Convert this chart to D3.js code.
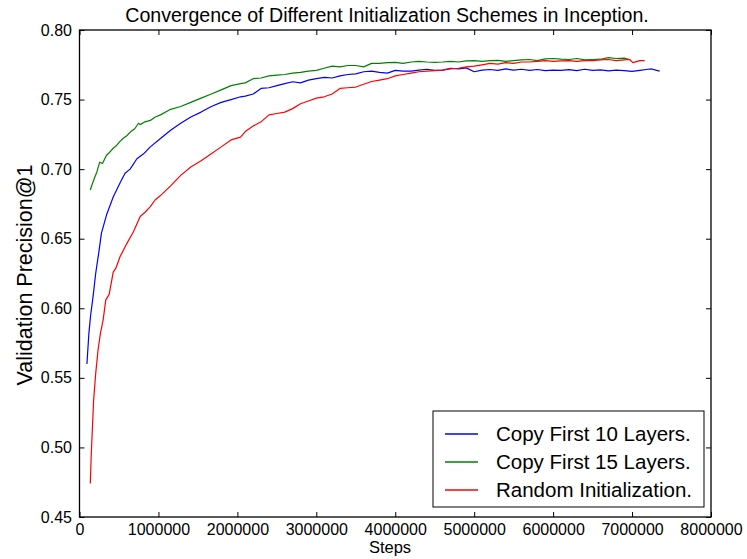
<!DOCTYPE html>
<html>
<head>
<meta charset="utf-8">
<script src="https://cdn.jsdelivr.net/npm/d3@7"></script>
<style>
  body { margin: 0; background: #fff; }
  text { font-family: "Liberation Sans", Arial, sans-serif; fill: #000; }
</style>
</head>
<body>
<svg id="chart" width="747" height="559"></svg>
<script>
// tick labels
var xTicks = [0, 1000000, 2000000, 3000000, 4000000, 5000000, 6000000, 7000000, 8000000];
var yTicks = [0.45, 0.50, 0.55, 0.60, 0.65, 0.70, 0.75, 0.80];
var seriesNames = ["Copy First 10 Layers.", "Copy First 15 Layers.", "Random Initialization."];

// Copy First 10 Layers.
var stepsCopy10 = [94000, 119000, 141000, 171000, 205000, 244000, 278000, 342000, 427000, 513000,
  577000, 641000, 727000, 812000, 897000, 1026000, 1154000, 1282000, 1410000, 1540000,
  1670000, 1795000, 1920000, 2040000, 2100000, 2200000, 2300000, 2400000, 2500000, 2600000,
  2700000, 2800000, 2900000, 3000000, 3100000, 3200000, 3300000, 3400000, 3500000, 3600000,
  3700000, 3800000, 3900000, 4000000, 4100000, 4200000, 4300000, 4400000, 4500000, 4600000,
  4700000, 4800000, 4900000, 5000000, 5100000, 5200000, 5300000, 5400000, 5500000, 5600000,
  5700000, 5800000, 5900000, 6000000, 6100000, 6200000, 6300000, 6400000, 6500000, 6600000,
  6700000, 6800000, 6900000, 7000000, 7100000, 7200000, 7250000, 7300000, 7350000];
var precCopy10 = [0.560, 0.582, 0.595, 0.608, 0.625, 0.640, 0.654, 0.667, 0.680, 0.690,
  0.697, 0.700, 0.7075, 0.711, 0.716, 0.722, 0.728, 0.733, 0.7375, 0.741,
  0.745, 0.748, 0.750, 0.752, 0.7525, 0.754, 0.758, 0.7585, 0.760, 0.7615,
  0.7628, 0.762, 0.764, 0.765, 0.766, 0.7655, 0.767, 0.768, 0.7685, 0.770,
  0.7705, 0.7695, 0.769, 0.771, 0.7705, 0.7705, 0.7712, 0.7718, 0.771, 0.7712,
  0.7725, 0.772, 0.7728, 0.770, 0.7712, 0.7716, 0.771, 0.772, 0.7712, 0.7718,
  0.771, 0.7716, 0.7708, 0.7712, 0.771, 0.7715, 0.7708, 0.7718, 0.771, 0.7714,
  0.7706, 0.7712, 0.7708, 0.7702, 0.771, 0.7718, 0.772, 0.7712, 0.7705];

// Copy First 15 Layers.
var stepsCopy15 = [137000, 160000, 192000, 220000, 256000, 291000, 342000, 380000, 427000, 470000,
  513000, 550000, 599000, 650000, 700000, 747000, 769000, 830000, 897000, 960000,
  1026000, 1154000, 1282000, 1410000, 1540000, 1670000, 1795000, 1920000, 2040000, 2100000,
  2200000, 2300000, 2400000, 2500000, 2600000, 2700000, 2800000, 2900000, 3000000, 3100000,
  3200000, 3300000, 3400000, 3500000, 3600000, 3700000, 3800000, 3900000, 4000000, 4100000,
  4200000, 4300000, 4400000, 4500000, 4600000, 4700000, 4800000, 4900000, 5000000, 5100000,
  5200000, 5300000, 5400000, 5500000, 5600000, 5700000, 5800000, 5900000, 6000000, 6100000,
  6200000, 6300000, 6400000, 6500000, 6600000, 6700000, 6800000, 6900000, 6970000];
var precCopy15 = [0.685, 0.689, 0.694, 0.698, 0.705, 0.704, 0.710, 0.712, 0.715, 0.717,
  0.720, 0.722, 0.724, 0.727, 0.729, 0.733, 0.732, 0.734, 0.735, 0.7375,
  0.739, 0.743, 0.745, 0.748, 0.751, 0.754, 0.757, 0.760, 0.7615, 0.762,
  0.765, 0.7655, 0.767, 0.7675, 0.768, 0.769, 0.7695, 0.7705, 0.771, 0.7725,
  0.774, 0.7735, 0.7745, 0.7745, 0.7735, 0.776, 0.776, 0.7765, 0.7768, 0.776,
  0.777, 0.7775, 0.777, 0.7768, 0.777, 0.7775, 0.777, 0.7778, 0.778, 0.7775,
  0.778, 0.7782, 0.7775, 0.778, 0.7785, 0.7788, 0.778, 0.7792, 0.7795, 0.779,
  0.7788, 0.7795, 0.7785, 0.7788, 0.779, 0.7802, 0.7795, 0.7798, 0.7788];

// Random Initialization.
var stepsRandom = [137000, 147000, 158000, 179000, 205000, 235000, 265000, 299000, 333000, 376000,
  427000, 462000, 513000, 599000, 683000, 769000, 830000, 897000, 960000, 1026000,
  1154000, 1282000, 1410000, 1540000, 1670000, 1795000, 1920000, 2040000, 2100000, 2200000,
  2300000, 2400000, 2500000, 2600000, 2700000, 2800000, 2900000, 3000000, 3100000, 3200000,
  3300000, 3400000, 3500000, 3600000, 3700000, 3800000, 3900000, 4000000, 4100000, 4200000,
  4300000, 4400000, 4500000, 4600000, 4700000, 4800000, 4900000, 5000000, 5100000, 5200000,
  5300000, 5400000, 5500000, 5600000, 5700000, 5800000, 5900000, 6000000, 6100000, 6200000,
  6300000, 6400000, 6500000, 6600000, 6700000, 6800000, 6900000, 6970000, 7010000, 7100000,
  7160000];
var precRandom = [0.474, 0.492, 0.507, 0.534, 0.553, 0.570, 0.582, 0.5915, 0.606, 0.610,
  0.626, 0.629, 0.637, 0.6465, 0.655, 0.666, 0.669, 0.673, 0.678, 0.681,
  0.688, 0.6955, 0.7015, 0.706, 0.711, 0.716, 0.721, 0.723, 0.727, 0.731,
  0.734, 0.739, 0.740, 0.741, 0.7435, 0.747, 0.749, 0.751, 0.752, 0.754,
  0.758, 0.7585, 0.759, 0.761, 0.763, 0.764, 0.765, 0.767, 0.768, 0.769,
  0.770, 0.7705, 0.7708, 0.7712, 0.772, 0.7725, 0.7735, 0.774, 0.775, 0.776,
  0.7755, 0.7765, 0.776, 0.777, 0.777, 0.7775, 0.778, 0.7775, 0.7778, 0.778,
  0.7775, 0.778, 0.778, 0.7785, 0.7788, 0.778, 0.7785, 0.7788, 0.7765, 0.778,
  0.778];

var colors = ["#0000ff", "#008000", "#ff0000"];

var plotLeft = 79.5, plotRight = 711, plotTop = 30, plotBottom = 517;

var svg = d3.select("#chart");

var x = d3.scaleLinear().domain([0, 8000000]).range([plotLeft, plotRight]);
var y = d3.scaleLinear().domain([0.45, 0.80]).range([plotBottom, plotTop]);

var series = [
  {name: seriesNames[0], steps: stepsCopy10, vals: precCopy10, color: colors[0]},
  {name: seriesNames[1], steps: stepsCopy15, vals: precCopy15, color: colors[1]},
  {name: seriesNames[2], steps: stepsRandom, vals: precRandom, color: colors[2]}
];

var line = d3.line()
  .x(function (d) { return x(d[0]); })
  .y(function (d) { return y(d[1]); });

// curves
svg.append("g").selectAll("path")
  .data(series)
  .enter()
  .append("path")
  .attr("fill", "none")
  .attr("stroke", function (d) { return d.color; })
  .attr("stroke-width", 1.2)
  .attr("stroke-linejoin", "round")
  .attr("d", function (d) { return line(d.steps.map(function (s, i) { return [s, d.vals[i]]; })); });

// axes, ticks pointing inward on all four sides
var xAxis = svg.append("g")
  .attr("transform", "translate(0," + plotBottom + ")")
  .call(d3.axisBottom(x).tickValues(xTicks).tickFormat(d3.format("d"))
    .tickSizeInner(-5).tickSizeOuter(0).tickPadding(7));
var xAxisTop = svg.append("g")
  .attr("transform", "translate(0," + plotTop + ")")
  .call(d3.axisTop(x).tickValues(xTicks).tickFormat("").tickSizeInner(-5).tickSizeOuter(0));
var yAxis = svg.append("g")
  .attr("transform", "translate(" + plotLeft + ",0)")
  .call(d3.axisLeft(y).tickValues(yTicks).tickFormat(d3.format(".2f"))
    .tickSizeInner(-5).tickSizeOuter(0).tickPadding(7.5));
var yAxisRight = svg.append("g")
  .attr("transform", "translate(" + plotRight + ",0)")
  .call(d3.axisRight(y).tickValues(yTicks).tickFormat("").tickSizeInner(-5).tickSizeOuter(0));

[xAxis, xAxisTop, yAxis, yAxisRight].forEach(function (g) {
  g.select(".domain").remove();
  g.selectAll(".tick line").attr("stroke", "#000").attr("stroke-width", 1);
  g.selectAll("text")
    .style("font-family", "'Liberation Sans', Arial, sans-serif")
    .style("font-size", "16px")
    .attr("fill", "#000");
});

// frame
svg.append("rect")
  .attr("x", plotLeft).attr("y", plotTop)
  .attr("width", plotRight - plotLeft).attr("height", plotBottom - plotTop)
  .attr("fill", "none").attr("stroke", "#000").attr("stroke-width", 1.3);

// title and axis labels
svg.append("text")
  .attr("x", 387).attr("y", 21.5)
  .attr("text-anchor", "middle")
  .style("font-size", "19.6px")
  .text("Convergence of Different Initialization Schemes in Inception.");

svg.append("text")
  .attr("x", 390).attr("y", 553)
  .attr("text-anchor", "middle")
  .style("font-size", "16.5px")
  .text("Steps");

svg.append("text")
  .attr("transform", "translate(32,275) rotate(-90)")
  .attr("text-anchor", "middle")
  .style("font-size", "21.5px")
  .text("Validation Precision@1");

// legend
var legend = svg.append("g");
legend.append("rect")
  .attr("x", 433).attr("y", 411)
  .attr("width", 271).attr("height", 96)
  .attr("fill", "#fff").attr("stroke", "#000").attr("stroke-width", 1);

var item = legend.selectAll("g.item")
  .data(series)
  .enter()
  .append("g")
  .attr("class", "item")
  .attr("transform", function (d, i) { return "translate(0," + (434 + i * 28) + ")"; });

item.append("line")
  .attr("x1", 445).attr("x2", 478)
  .attr("y1", 0).attr("y2", 0)
  .attr("stroke", function (d) { return d.color; })
  .attr("stroke-width", 1.3);

item.append("text")
  .attr("x", 496).attr("y", 0)
  .attr("dy", "0.35em")
  .style("font-size", "20.5px")
  .text(function (d) { return d.name; });
</script>
</body>
</html>
